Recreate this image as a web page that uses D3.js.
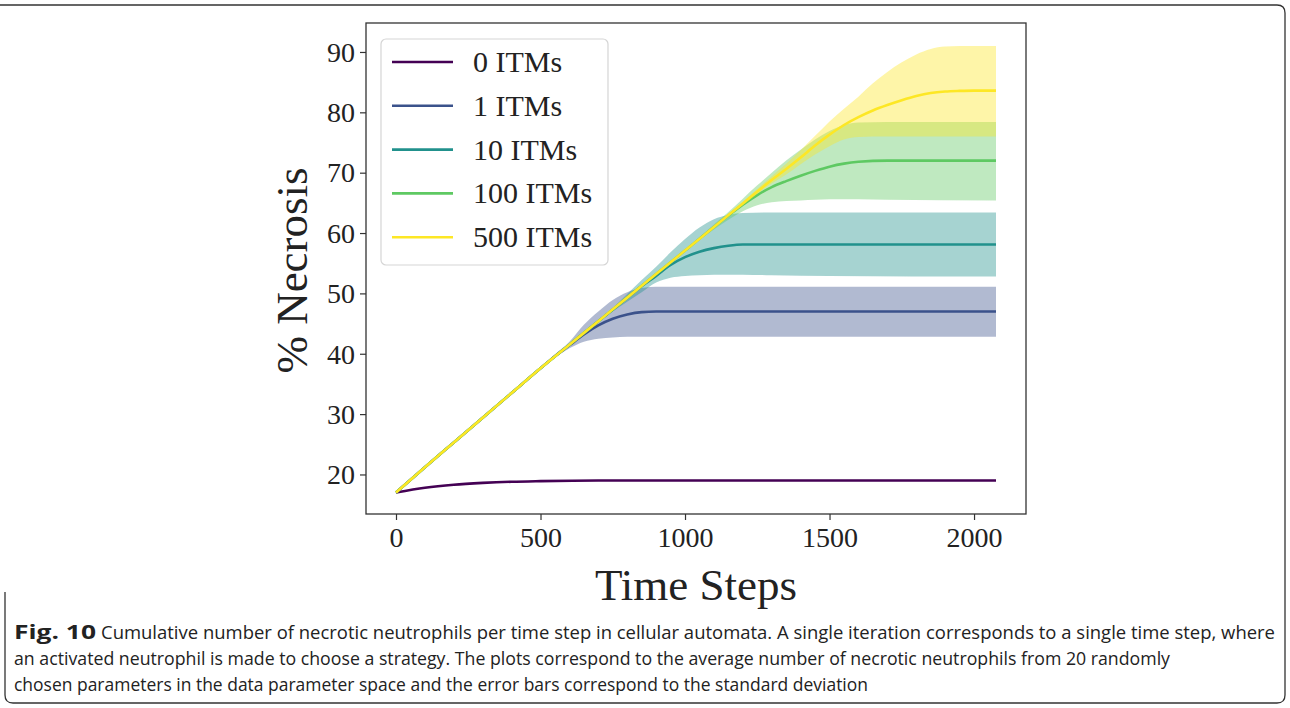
<!DOCTYPE html>
<html>
<head>
<meta charset="utf-8">
<script src="https://cdn.jsdelivr.net/npm/d3@7"></script>
<style>
  html, body { margin: 0; padding: 0; background: #fff; }
  svg { display: block; }
</style>
</head>
<body>
<svg id="chart" width="1290" height="708"></svg>
<script>
// ---------------- data ----------------
const categories = ["0 ITMs", "1 ITMs", "10 ITMs", "100 ITMs", "500 ITMs"];
const colors = ["#440154", "#3b528b", "#21918c", "#5ec962", "#fde725"];
const xTicks = [0, 500, 1000, 1500, 2000];
const yTicks = [20, 30, 40, 50, 60, 70, 80, 90];

const t0 = [0, 100, 200, 300, 400, 500, 700, 1000, 2076];
const m0 = [17.0, 17.8, 18.3, 18.6, 18.8, 18.9, 19.0, 19.0, 19.0];
const lo0 = [17.0, 17.75, 18.25, 18.55, 18.75, 18.85, 18.95, 18.95, 18.95];
const hi0 = [17.0, 17.85, 18.35, 18.65, 18.85, 18.95, 19.05, 19.05, 19.05];

const t1 = [0, 100, 200, 300, 400, 500, 550, 600, 650, 700, 750, 800, 850, 900, 1000, 1500, 2076];
const m1 = [17.0, 21.2, 25.3, 29.4, 33.5, 37.6, 39.6, 41.4, 43.2, 44.7, 45.8, 46.5, 46.9, 47.0, 47.0, 47.0, 47.0];
const lo1 = [17.0, 21.2, 25.3, 29.4, 33.5, 37.5, 39.3, 40.9, 42.0, 42.5, 42.7, 42.8, 42.8, 42.8, 42.8, 42.8, 42.8];
const hi1 = [17.0, 21.2, 25.3, 29.4, 33.5, 37.7, 39.9, 42.0, 44.8, 47.0, 48.9, 50.2, 50.9, 51.1, 51.1, 51.1, 51.1];

const t2 = [0, 100, 200, 300, 400, 500, 600, 700, 750, 800, 850, 900, 950, 1000, 1050, 1100, 1150, 1200, 1300, 1500, 2076];
const m2 = [17.0, 21.2, 25.3, 29.4, 33.5, 37.6, 41.5, 45.4, 47.3, 49.3, 51.2, 52.9, 54.7, 56.0, 56.9, 57.5, 57.9, 58.1, 58.1, 58.1, 58.1];
const lo2 = [17.0, 21.2, 25.3, 29.4, 33.5, 37.6, 41.5, 45.2, 47.0, 48.6, 50.2, 51.8, 52.6, 52.9, 53.0, 53.1, 53.1, 53.1, 53.0, 52.9, 52.8];
const hi2 = [17.0, 21.2, 25.3, 29.4, 33.5, 37.6, 41.5, 45.6, 47.6, 49.9, 52.2, 54.4, 56.8, 59.0, 60.9, 62.3, 63.0, 63.3, 63.4, 63.4, 63.4];

const t3 = [0, 100, 200, 300, 400, 500, 600, 700, 800, 900, 1000, 1100, 1150, 1200, 1250, 1300, 1350, 1400, 1450, 1500, 1550, 1600, 1700, 2076];
const m3 = [17.0, 21.2, 25.3, 29.4, 33.5, 37.6, 41.5, 45.4, 49.3, 53.2, 57.1, 61.0, 62.9, 64.7, 66.3, 67.6, 68.6, 69.5, 70.3, 71.0, 71.5, 71.8, 72.0, 72.0];
const lo3 = [17.0, 21.2, 25.3, 29.4, 33.5, 37.6, 41.5, 45.4, 49.3, 53.2, 57.0, 60.6, 62.2, 63.6, 64.6, 65.1, 65.3, 65.4, 65.5, 65.6, 65.6, 65.6, 65.5, 65.4];
const hi3 = [17.0, 21.2, 25.3, 29.4, 33.5, 37.6, 41.5, 45.4, 49.3, 53.2, 57.2, 61.4, 63.5, 65.7, 67.9, 70.0, 72.0, 73.8, 75.5, 76.9, 77.9, 78.3, 78.4, 78.4];

const t4 = [0, 100, 200, 300, 400, 500, 600, 700, 800, 900, 1000, 1100, 1200, 1300, 1350, 1400, 1450, 1500, 1550, 1600, 1650, 1700, 1750, 1800, 1850, 1900, 1950, 2000, 2076];
const m4 = [17.0, 21.2, 25.3, 29.4, 33.5, 37.6, 41.5, 45.4, 49.3, 53.2, 57.1, 61.0, 64.9, 68.8, 70.6, 72.5, 74.5, 76.3, 77.9, 79.2, 80.3, 81.2, 82.0, 82.7, 83.2, 83.45, 83.55, 83.6, 83.6];
const lo4 = [17.0, 21.2, 25.3, 29.4, 33.5, 37.6, 41.5, 45.4, 49.3, 53.2, 57.1, 61.0, 64.6, 68.2, 69.7, 71.4, 73.0, 74.4, 75.5, 75.9, 76.0, 76.0, 76.0, 76.0, 76.0, 76.0, 76.0, 76.0, 76.0];
const hi4 = [17.0, 21.2, 25.3, 29.4, 33.5, 37.6, 41.5, 45.4, 49.3, 53.2, 57.1, 61.0, 65.2, 69.4, 71.5, 73.7, 76.1, 78.5, 80.6, 82.6, 84.8, 86.7, 88.3, 89.6, 90.5, 90.9, 91.0, 91.0, 91.0];

const captionBold = "Fig. 10";
const captionLines = [
  "Cumulative number of necrotic neutrophils per time step in cellular automata. A single iteration corresponds to a single time step, where",
  "an activated neutrophil is made to choose a strategy. The plots correspond to the average number of necrotic neutrophils from 20 randomly",
  "chosen parameters in the data parameter space and the error bars correspond to the standard deviation"
];

const seriesT = [t0, t1, t2, t3, t4];
const seriesM = [m0, m1, m2, m3, m4];
const seriesLo = [lo0, lo1, lo2, lo3, lo4];
const seriesHi = [hi0, hi1, hi2, hi3, hi4];

// ---------------- drawing ----------------
const svg = d3.select("#chart");
const serif = "'Liberation Serif', 'DejaVu Serif', serif";

// outer frame
svg.append("path")
  .attr("d", "M0,5 L1277,5 Q1285,5 1285,13 L1285,695 Q1285,703 1277,703 L13,703 Q5,703 5,695 L5,592")
  .attr("fill", "none").attr("stroke", "#333").attr("stroke-width", 1.3);

const L = 366, R = 1026, T = 23, B = 514;
const x = d3.scaleLinear().domain([-103.8, 2179.8]).range([L, R]);
const y = d3.scaleLinear().domain([13.45, 94.8]).range([B, T]);

const plot = svg.append("g");
svg.append("clipPath").attr("id", "clip").append("rect")
  .attr("x", L).attr("y", T).attr("width", R - L).attr("height", B - T);
plot.attr("clip-path", "url(#clip)");

const area = d3.area().curve(d3.curveMonotoneX)
  .x(d => x(d.t)).y0(d => y(d.lo)).y1(d => y(d.hi));
const line = d3.line().curve(d3.curveMonotoneX)
  .x(d => x(d.t)).y(d => y(d.m));

categories.forEach((c, i) => {
  const data = seriesT[i].map((t, k) => ({ t, m: seriesM[i][k], lo: seriesLo[i][k], hi: seriesHi[i][k] }));
  plot.append("path").datum(data).attr("d", area)
    .attr("fill", colors[i]).attr("fill-opacity", 0.4).attr("stroke", "none");
  plot.append("path").datum(data).attr("d", line)
    .attr("fill", "none").attr("stroke", colors[i]).attr("stroke-width", 2.6);
});

// axes
const xAxis = d3.axisBottom(x).tickValues(xTicks).tickSize(6).tickPadding(6).tickFormat(d3.format("d"));
const yAxis = d3.axisLeft(y).tickValues(yTicks).tickSize(6).tickPadding(5).tickFormat(d3.format("d"));

const gx = svg.append("g").attr("transform", `translate(0,${B})`).call(xAxis);
const gy = svg.append("g").attr("transform", `translate(${L},0)`).call(yAxis);
[gx, gy].forEach(g => {
  g.select(".domain").remove();
  g.selectAll(".tick line").attr("stroke", "#333").attr("stroke-width", 1.2);
  g.selectAll(".tick text").attr("font-family", serif).attr("font-size", 28).attr("fill", "#222");
});
gx.selectAll(".tick text").attr("dy", "0.75em");
gy.selectAll(".tick text").attr("dy", "0.33em");

// frame of axes
svg.append("rect").attr("x", L).attr("y", T).attr("width", R - L).attr("height", B - T)
  .attr("fill", "none").attr("stroke", "#333").attr("stroke-width", 1.3);

// axis titles
svg.append("text").attr("x", (L + R) / 2).attr("y", 600)
  .attr("text-anchor", "middle").attr("font-family", serif).attr("font-size", 45).attr("fill", "#222")
  .text("Time Steps");
svg.append("text").attr("transform", `translate(307,${(T + B) / 2 + 2}) rotate(-90)`)
  .attr("text-anchor", "middle").attr("font-family", serif).attr("font-size", 45).attr("fill", "#222")
  .text("% Necrosis");

// legend
const lg = svg.append("g");
lg.append("rect").attr("x", 381).attr("y", 39).attr("width", 227).attr("height", 226).attr("rx", 5)
  .attr("fill", "#fff").attr("fill-opacity", 0.85).attr("stroke", "#d5d5d5").attr("stroke-width", 1.2);
categories.forEach((c, i) => {
  const yy = 62 + i * 43.8;
  lg.append("line").attr("x1", 392).attr("x2", 453).attr("y1", yy).attr("y2", yy)
    .attr("stroke", colors[i]).attr("stroke-width", 2.6);
  lg.append("text").attr("x", 473).attr("y", yy + 10)
    .attr("font-family", serif).attr("font-size", 30).attr("fill", "#222").text(c);
});

// caption (slightly condensed sans, stretched vertically)
const capFont = "'Open Sans', 'Noto Sans', sans-serif";
const capY = [639, 665, 691];
const capStart = [101, 14, 14];
const capEnd = [1275, 1170, 868];
const cb = svg.append("g").attr("transform", `translate(14,${capY[0]}) scale(1,1.18)`);
cb.append("text").attr("x", 0).attr("y", 0)
  .attr("font-family", capFont).attr("font-size", 16).attr("font-weight", "bold").attr("fill", "#222")
  .attr("textLength", 82).attr("lengthAdjust", "spacingAndGlyphs").text(captionBold);
captionLines.forEach((s, i) => {
  const g = svg.append("g").attr("transform", `translate(${capStart[i]},${capY[i]}) scale(1,1.18)`);
  g.append("text").attr("x", 0).attr("y", 0)
    .attr("font-family", capFont).attr("font-size", 16).attr("fill", "#222")
    .attr("textLength", capEnd[i] - capStart[i]).attr("lengthAdjust", "spacingAndGlyphs").text(s);
});
</script>
</body>
</html>
